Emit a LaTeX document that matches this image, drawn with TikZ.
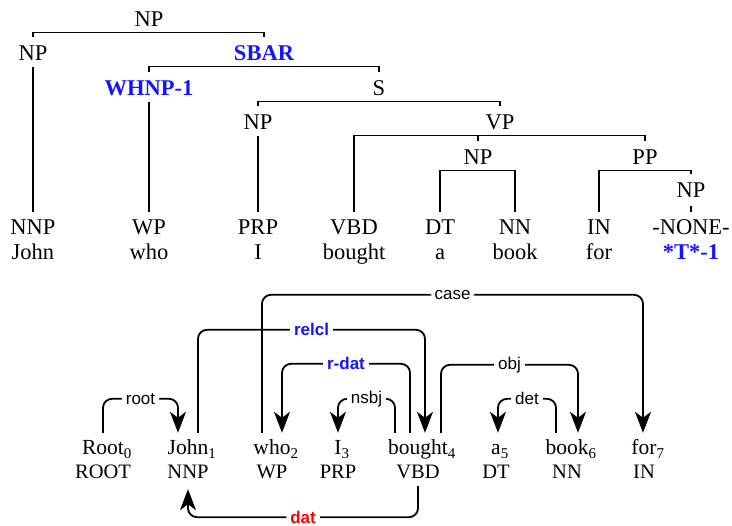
\documentclass[tikz,border=0pt]{standalone}
\usepackage{fontspec}
\setmainfont{Liberation Serif}
\setsansfont{Liberation Sans}
\usetikzlibrary{arrows.meta}
\definecolor{refblue}{RGB}{20,20,255}
\definecolor{depred}{RGB}{255,0,0}
% index subscript that does not shift the word's centre
\newcommand{\wsub}[1]{\rlap{\raisebox{-4pt}{\fontsize{15}{15}\selectfont #1}}}
\begin{document}
\begin{tikzpicture}[x=1pt,y=-1pt,
  tag/.style={inner sep=0pt,anchor=base,text height=15pt,text depth=0pt,
    font=\fontsize{22.5}{24}\selectfont},
  coref/.style={tag,text=refblue,font=\fontsize{22.5}{24}\selectfont\bfseries},
  branch/.style={line width=1.3pt},
  word/.style={inner sep=0pt,anchor=base,text height=15pt,text depth=0pt,
    font=\fontsize{21.5}{24}\selectfont},
  postag/.style={inner sep=0pt,anchor=base,text height=14pt,text depth=0pt,
    font=\fontsize{20.5}{24}\selectfont},
  arc/.style={line width=1.8pt,rounded corners=9pt},
  head/.style={line width=1.8pt,-{Stealth[length=21pt,width=16pt,inset=6pt]}},
  deplab/.style={fill=white,inner xsep=4pt,inner ysep=0.5pt,
    font=\sffamily\fontsize{17}{17}\selectfont},
  deplabblue/.style={deplab,text=refblue,font=\sffamily\bfseries\fontsize{17}{17}\selectfont},
  deplabred/.style={deplab,text=depred,font=\sffamily\bfseries\fontsize{17}{17}\selectfont},
]
\useasboundingbox (0,0) rectangle (732,526);

% ---------------- constituency tree ----------------
\node[tag]   (np0)  at (149,27)  {NP};
\node[tag]   (np1)  at (33,61)   {NP};
\node[coref] (sbar) at (264,61)  {SBAR};
\node[coref] (whnp) at (149,96)  {WHNP-1};
\node[tag]   (s)    at (379,96)  {S};
\node[tag]   (np2)  at (258,130) {NP};
\node[tag]   (vp)   at (500,130) {VP};
\node[tag]   (np3)  at (478,165) {NP};
\node[tag]   (pp)   at (645,165) {PP};
\node[tag]   (np4)  at (691,198) {NP};

\node[tag] (tNNP)  at (33,235)  {NNP};
\node[tag] (tWP)   at (149,235) {WP};
\node[tag] (tPRP)  at (258,235) {PRP};
\node[tag] (tVBD)  at (354,235) {VBD};
\node[tag] (tDT)   at (440,235) {DT};
\node[tag] (tNN)   at (515,235) {NN};
\node[tag] (tIN)   at (599,235) {IN};
\node[tag] (tNONE) at (691,235) {-NONE-};

\node[tag]   (lJohn)   at (33,260)  {John};
\node[tag]   (lwho)    at (149,260) {who};
\node[tag]   (lI)      at (258,260) {I};
\node[tag]   (lbought) at (354,260) {bought};
\node[tag]   (la)      at (440,260) {a};
\node[tag]   (lbook)   at (515,260) {book};
\node[tag]   (lfor)    at (599,260) {for};
\node[coref] (ltrace)  at (691,260) {*T*-1};

% brackets
\draw[branch] ([yshift=9pt]np1.north) |- ([yshift=-5.5pt]np0.south) -| ([yshift=9pt]sbar.north);
\draw[branch] ([yshift=9pt]whnp.north) |- ([yshift=-5.5pt]sbar.south) -| ([yshift=9pt]s.north);
\draw[branch] ([yshift=9pt]np2.north) |- ([yshift=-5.5pt]s.south) -| ([yshift=9pt]vp.north);
\draw[branch] ([yshift=8pt]tVBD.north) |- ([yshift=-5.5pt]vp.south) -| ([yshift=9pt]pp.north);
\draw[branch] ([yshift=9pt]np3.north) -- ([yshift=-5.5pt]np3.north |- vp.south);
\draw[branch] ([yshift=8pt]tDT.north) |- ([yshift=-5.5pt]np3.south) -| ([yshift=8pt]tNN.north);
\draw[branch] ([yshift=8pt]tIN.north) |- ([yshift=-5.5pt]pp.south) -| ([yshift=9pt]np4.north);
% unary branches
\draw[branch] ([yshift=-6pt]np1.south) -- ([yshift=8pt]tNNP.north);
\draw[branch] ([yshift=-6pt]whnp.south) -- ([yshift=8pt]tWP.north);
\draw[branch] ([yshift=-6pt]np2.south) -- ([yshift=8pt]tPRP.north);
\draw[branch] ([yshift=-8pt]np4.south) -- ([yshift=8pt]tNONE.north);

% ---------------- dependency graph ----------------
\node[word] (wRoot)   at (103,455) {Root\wsub{0}};
\node[word] (wJohn)   at (188,455) {John\wsub{1}};
\node[word] (wwho)    at (272,455) {who\wsub{2}};
\node[word] (wI)      at (338,455) {I\wsub{3}};
\node[word] (wbought) at (418,455) {bought\wsub{4}};
\node[word] (wa)      at (496,455) {a\wsub{5}};
\node[word] (wbook)   at (567,455) {book\wsub{6}};
\node[word] (wfor)    at (644,455) {for\wsub{7}};

\node[postag] (pRoot)   at (103,479) {ROOT};
\node[postag] (pJohn)   at (188,479) {NNP};
\node[postag] (pwho)    at (272,479) {WP};
\node[postag] (pI)      at (338,479) {PRP};
\node[postag] (pbought) at (418,479) {VBD};
\node[postag] (pa)      at (496,479) {DT};
\node[postag] (pbook)   at (567,479) {NN};
\node[postag] (pfor)    at (644,479) {IN};

% each arc: rounded body up to the head's stem, then a straight stem with a sharp tip
\draw[arc] ([yshift=7pt]wRoot.north) -- ++(0,-34)
  -| node[pos=0.25,deplab]{root} ([xshift=-10pt,yshift=22pt]wJohn.north) coordinate (h1);
\draw[head] (h1) -- ([xshift=-10pt,yshift=7pt]wJohn.north);
\draw[arc] ([xshift=10pt,yshift=7pt]wJohn.north) -- ++(0,-103)
  -| node[pos=0.25,deplabblue]{relcl} ([xshift=7pt,yshift=22pt]wbought.north) coordinate (h2);
\draw[head] (h2) -- ([xshift=7pt,yshift=7pt]wbought.north);
\draw[arc] ([xshift=-10pt,yshift=7pt]wwho.north) -- ++(0,-138)
  -| node[pos=0.25,deplab]{case} ([xshift=-1pt,yshift=22pt]wfor.north) coordinate (h3);
\draw[head] (h3) -- ([xshift=-1pt,yshift=7pt]wfor.north);
\draw[arc] ([xshift=-8pt,yshift=7pt]wbought.north) -- ++(0,-69)
  -| node[pos=0.25,deplabblue]{r-dat} ([xshift=10pt,yshift=22pt]wwho.north) coordinate (h4);
\draw[head] (h4) -- ([xshift=10pt,yshift=7pt]wwho.north);
\draw[arc] ([xshift=-23pt,yshift=7pt]wbought.north) -- ++(0,-34)
  -| node[pos=0.25,deplab]{nsbj} ([yshift=22pt]wI.north) coordinate (h5);
\draw[head] (h5) -- ([yshift=7pt]wI.north);
\draw[arc] ([xshift=23pt,yshift=7pt]wbought.north) -- ++(0,-68)
  -| node[pos=0.25,deplab]{obj} ([xshift=11pt,yshift=22pt]wbook.north) coordinate (h6);
\draw[head] (h6) -- ([xshift=11pt,yshift=7pt]wbook.north);
\draw[arc] ([xshift=-11pt,yshift=7pt]wbook.north) -- ++(0,-34)
  -| node[pos=0.25,deplab]{det} ([xshift=2pt,yshift=22pt]wa.north) coordinate (h7);
\draw[head] (h7) -- ([xshift=2pt,yshift=7pt]wa.north);
\draw[arc] ([yshift=-7pt]pbought.south) -- ++(0,31)
  -| node[pos=0.25,deplabred]{dat} ([yshift=-23pt]pJohn.south) coordinate (h8);
\draw[head] (h8) -- ([yshift=-10pt]pJohn.south);
\end{tikzpicture}
\end{document}
